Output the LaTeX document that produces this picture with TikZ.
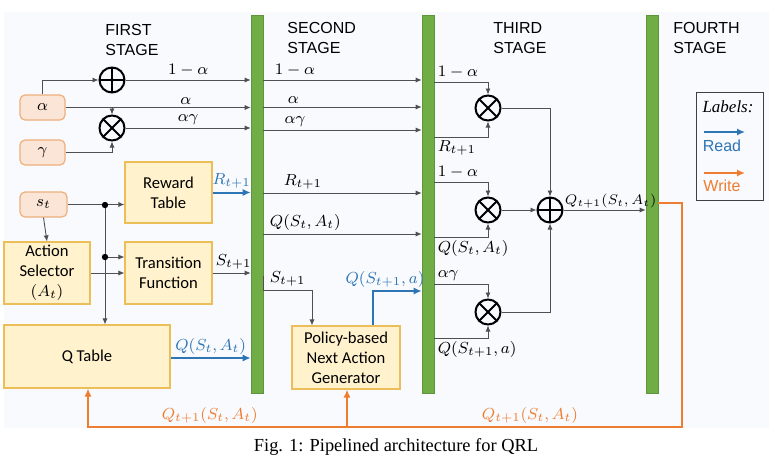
\documentclass[tikz,border=0pt]{standalone}
\usepackage{fontspec}
\setmainfont{Carlito}
\newfontfamily\stagefont{Liberation Sans}
\newfontfamily\captionfont{Liberation Serif}
\usetikzlibrary{arrows.meta}

\definecolor{barcol}{HTML}{70AD47}
\definecolor{inbg}{HTML}{FBE5D6}
\definecolor{inframe}{HTML}{EDB07C}
\definecolor{fnbg}{HTML}{FFF2CC}
\definecolor{fnframe}{HTML}{EBBE5A}
\definecolor{readcol}{HTML}{2E75B6}
\definecolor{writecol}{HTML}{ED7D31}
\definecolor{bgcol}{HTML}{F9FAFD}
\definecolor{linecol}{HTML}{505050}

\tikzset{
  stagebar/.style={fill=barcol, draw=barcol!85!black, line width=0.3pt,
    minimum width=6pt, minimum height=189pt, inner sep=0pt},
  inbox/.style={fill=inbg, draw=inframe, line width=0.6pt, rounded corners=2.5pt,
    minimum width=22.5pt, minimum height=12.5pt, inner sep=0pt,
    font=\fontsize{8.5}{10}\selectfont},
  fnbox/.style={fill=fnbg, draw=fnframe, line width=0.6pt, inner sep=0pt,
    align=center, font=\fontsize{8.3}{10}\selectfont},
  opadd/.style={circle, draw=black, line width=1pt, minimum size=12.5pt, inner sep=0pt,
    path picture={\draw[line width=1pt]
      (path picture bounding box.north) -- (path picture bounding box.south)
      (path picture bounding box.west) -- (path picture bounding box.east);}},
  opmul/.style={circle, draw=black, line width=1pt, minimum size=12.5pt, inner sep=0pt,
    path picture={\draw[line width=1pt]
      (path picture bounding box.north west) -- (path picture bounding box.south east)
      (path picture bounding box.south west) -- (path picture bounding box.north east);}},
  conn/.style={draw=linecol, line width=0.45pt, -{Latex[length=3pt,width=2.6pt]}},
  readarr/.style={draw=readcol, line width=1pt, -{Latex[length=4pt,width=3.6pt]}},
  writearr/.style={draw=writecol, line width=1pt, -{Latex[length=4pt,width=3.6pt]}},
  lbl/.style={font=\fontsize{8}{10}\selectfont, inner sep=1.5pt},
  stagelbl/.style={font=\stagefont\fontsize{8}{10}\selectfont, align=left,
    anchor=north west, inner sep=0pt},
  legtxt/.style={font=\stagefont\fontsize{8}{10}\selectfont, inner sep=0pt}
}

\begin{document}
\begin{tikzpicture}[x=0.5pt,y=-0.5pt]

  \useasboundingbox (0,0) rectangle (769,462);
  \fill[bgcol] (4,12) rectangle (769,428);

  \node[stagebar] (bar1) at (257,204) {};
  \node[stagebar] (bar2) at (428,204) {};
  \node[stagebar] (bar3) at (652,204) {};

  \node[stagelbl] (first) at (105,24) {FIRST\\STAGE};
  \node[stagelbl] (second) at (287,22) {SECOND\\STAGE};
  \node[stagelbl] (third) at (493,22) {THIRD\\STAGE};
  \node[stagelbl] (fourth) at (673,22) {FOURTH\\STAGE};

  \node[inbox] (alpha) at (42.5,107.5) {$\alpha$};
  \node[inbox] (gamma) at (42.5,152.5) {$\gamma$};
  \node[inbox, minimum width=23.5pt] (st) at (43.5,204.5) {$s_t$};

  \node[fnbox, minimum width=43.5pt, minimum height=30.5pt] (reward) at (168.5,192.5) {Reward\\Table};
  \node[fnbox, minimum width=43.5pt, minimum height=31pt] (trans) at (168.5,273) {Transition\\Function};
  \node[fnbox, minimum width=43pt, minimum height=31pt] (action) at (47,273) {Action\\Selector\\$(A_t)$};
  \node[fnbox, minimum width=83pt, minimum height=31.5pt] (qtab) at (87,356.5) {Q Table};
  \node[fnbox, minimum width=54pt, minimum height=31.5pt] (policy) at (346,357.5) {Policy-based\\Next Action\\Generator};

  \node[opadd] (add1) at (112,80) {};
  \node[opmul] (mul1) at (112,128) {};
  \node[opmul] (mul2) at (488,108) {};
  \node[opmul] (mul3) at (488,210) {};
  \node[opmul] (mul4) at (488,312) {};
  \node[opadd] (add2) at (550,210) {};

  % first stage
  \draw[conn] (alpha.north) |- (add1.west);
  \draw[conn] (add1.east) -- node[lbl, above] {$1-\alpha$} (add1.east -| bar1.west);
  \draw[conn] (alpha.east) -- node[lbl, above, pos=0.65] {$\alpha$} (alpha.east -| bar1.west);
  \draw[conn] (alpha.east -| mul1.north) -- (mul1.north);
  \draw[conn] (gamma.east) -| (mul1.south);
  \draw[conn] (mul1.east) -- node[lbl, above] {$\alpha\gamma$} (mul1.east -| bar1.west);

  \coordinate (j1) at (105,205);
  \coordinate (j2) at (105,257);
  \draw[conn] (st.east) -- (st.east -| reward.west);
  \draw[conn] (j1) -- (j1 |- qtab.north);
  \draw[conn] (j2) -- (j2 -| trans.west);
  \fill[black] (j1) circle (1.6pt) (j2) circle (1.6pt);
  \draw[conn] (st.south) -- (action.north);
  \draw[conn] (action.east) -- (trans.west);

  \draw[readarr] (reward.east) -- node[lbl, above, text=readcol] {$R_{t+1}$} (reward.east -| bar1.west);
  \draw[conn] (trans.east) -- node[lbl, above, xshift=1pt] {$S_{t+1}$} (trans.east -| bar1.west);
  \draw[readarr] (qtab.east |- 0,358) -- node[lbl, above, text=readcol] {$Q(S_t,A_t)$} (bar1.west |- 0,358);

  % second stage
  \draw[conn] (bar1.east |- 0,80) -- node[lbl, above, pos=0.2] {$1-\alpha$} (bar2.west |- 0,80);
  \draw[conn] (bar1.east |- 0,107) -- node[lbl, above, pos=0.19] {$\alpha$} (bar2.west |- 0,107);
  \draw[conn] (bar1.east |- 0,130) -- node[lbl, above, pos=0.2] {$\alpha\gamma$} (bar2.west |- 0,130);
  \draw[conn] (bar1.east |- 0,193) -- node[lbl, above, pos=0.25] {$R_{t+1}$} (bar2.west |- 0,193);
  \draw[conn] (bar1.east |- 0,234) -- node[lbl, above, pos=0.265] {$Q(S_t,A_t)$} (bar2.west |- 0,234);

  \coordinate (sbend) at (312,290);
  \draw[conn] (bar1.east |- 0,276) |- node[lbl, above, pos=0.75] {$S_{t+1}$} (sbend) -- (sbend |- policy.north);

  \coordinate (qup) at (373,291);
  \draw[readarr] (qup |- policy.north) -- (qup) node[lbl, above, text=readcol, xshift=6pt] {$Q(S_{t+1},a)$} -- (qup -| bar2.west);

  % third stage
  \draw[conn] (bar2.east |- 0,82) -| node[lbl, above right, pos=0] {$1-\alpha$} (mul2.north);
  \draw[conn] (bar2.east |- 0,137) -| node[lbl, below right, pos=0] {$R_{t+1}$} (mul2.south);
  \draw[conn] (mul2.east) -| (add2.north);
  \draw[conn] (bar2.east |- 0,182) -| node[lbl, above right, pos=0] {$1-\alpha$} (mul3.north);
  \draw[conn] (bar2.east |- 0,237) -| node[lbl, below right, pos=0] {$Q(S_t,A_t)$} (mul3.south);
  \draw[conn] (mul3.east) -- (add2.west);
  \draw[conn] (bar2.east |- 0,284) -| node[lbl, above right, pos=0] {$\alpha\gamma$} (mul4.north);
  \draw[conn] (bar2.east |- 0,338) -| node[lbl, below right, pos=0] {$Q(S_{t+1},a)$} (mul4.south);
  \draw[conn] (mul4.east) -| (add2.south);
  \draw[conn] (add2.east) -- node[lbl, above right, pos=0, inner sep=0.5pt, font=\fontsize{7}{9}\selectfont] {$Q_{t+1}(S_t,A_t)$} (add2.east -| bar3.west);

  % write back
  \coordinate (wc) at (682,427);
  \coordinate (wq) at (88,427);
  \coordinate (wp) at (347,427);
  \draw[writearr] (bar3.east |- 0,203) -| (wc)
    -- node[lbl, above, text=writecol, pos=0.256] {$Q_{t+1}(S_t,A_t)$}
       node[lbl, above, text=writecol, pos=0.795] {$Q_{t+1}(S_t,A_t)$} (wq)
    -- (wq |- qtab.south);
  \draw[writearr] (wp) -- (wp |- policy.south);

  % legend
  \node[draw=black!75, line width=0.5pt, minimum width=33.5pt, minimum height=54pt, inner sep=0pt] (legend) at (729.5,146) {};
  \node[font=\captionfont\itshape\fontsize{8.5}{10}\selectfont] (legtitle) at (728,107) {Labels:};
  \coordinate (rd1) at (704,132);
  \coordinate (rd2) at (745,132);
  \draw[readarr] (rd1) -- (rd2);
  \node[legtxt, text=readcol] (rdtxt) at (722,146) {Read};
  \coordinate (wr1) at (704,173);
  \coordinate (wr2) at (745,173);
  \draw[writearr] (wr1) -- (wr2);
  \node[legtxt, text=writecol] (wrtxt) at (722,186) {Write};

  \node[font=\captionfont\fontsize{9.2}{11}\selectfont] (caption) at (396,447) {Fig. 1: Pipelined architecture for QRL};

\end{tikzpicture}
\end{document}
